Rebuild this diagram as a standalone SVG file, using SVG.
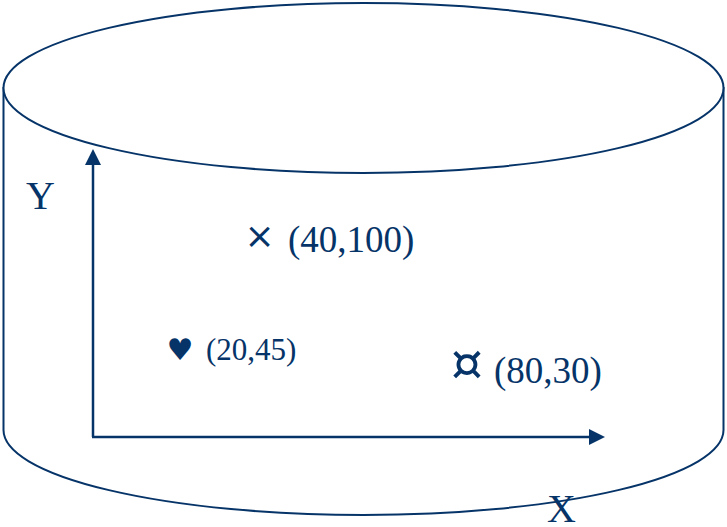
<svg xmlns="http://www.w3.org/2000/svg" width="727" height="527" viewBox="0 0 727 527">
<style>
.shape{fill:#ffffff;stroke:#063468;stroke-width:2}
.axis{fill:none;stroke:#063468;stroke-width:2.5}
.t{font-family:"Liberation Serif","Times New Roman",serif;fill:#063468}
.sym{font-family:"DejaVu Sans",sans-serif;fill:#063468}
</style>
<defs>
<marker id="arr" viewBox="0 0 16 16" refX="1" refY="8" markerWidth="16" markerHeight="16" markerUnits="userSpaceOnUse" orient="auto">
<path d="M0,0 L16,8 L0,16 Z" fill="#063468"/>
</marker>
</defs>
<g id="cylinder">
<path class="shape" d="M3.5,88 L3.5,430 A360,85 0 0 0 723.5,430 L723.5,88 Z"/>
<ellipse class="shape" cx="363.5" cy="88" rx="360" ry="85"/>
</g>
<g id="connectors">
<line class="axis" x1="93" y1="437" x2="93" y2="164" marker-end="url(#arr)"/>
<line class="axis" x1="92" y1="437" x2="590" y2="437" marker-end="url(#arr)"/>
</g>
<g id="label-y"><text class="t" x="26" y="209" font-size="40">Y</text></g>
<g id="label-x"><text class="t" x="547" y="522" font-size="40">X</text></g>
<g id="point-40-100">
<text class="sym" x="259.5" y="248" font-size="36" text-anchor="middle">×</text>
<text class="t" x="288" y="252" font-size="37">(40,100)</text>
</g>
<g id="point-20-45">
<text class="sym" x="180" y="360" font-size="30" text-anchor="middle">♥</text>
<text class="t" x="206" y="360" font-size="31">(20,45)</text>
</g>
<g id="point-80-30">
<text class="sym" x="467" y="380" font-size="50" text-anchor="middle">¤</text>
<text class="t" x="494" y="383" font-size="37">(80,30)</text>
</g>
</svg>
